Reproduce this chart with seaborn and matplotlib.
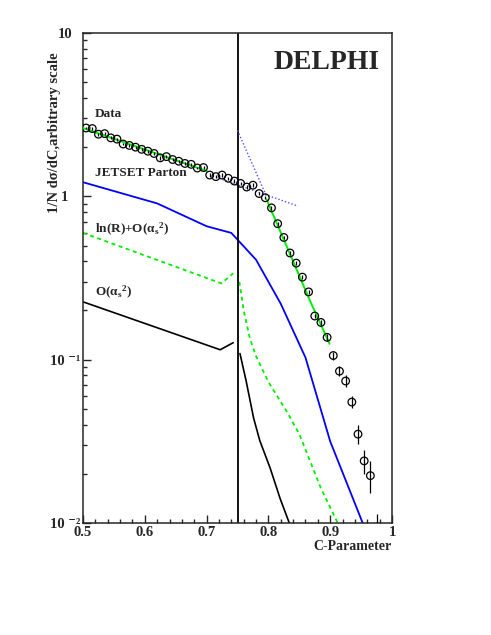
import numpy as np
import pandas as pd
import seaborn as sns
import matplotlib
matplotlib.use("Agg")
import matplotlib.pyplot as plt
from matplotlib.ticker import MultipleLocator, LogLocator, NullFormatter

# Mätpunkter (DELPHI data)
data_c = [0.505, 0.515, 0.525, 0.535, 0.545, 0.555, 0.565, 0.575, 0.585, 0.595,
          0.605, 0.615, 0.625, 0.635, 0.645, 0.655, 0.665, 0.675, 0.685, 0.695,
          0.705, 0.715, 0.725, 0.735, 0.745, 0.755, 0.765, 0.775, 0.785, 0.795,
          0.805, 0.815, 0.825, 0.835, 0.845, 0.855, 0.865, 0.875, 0.885, 0.895,
          0.905, 0.915, 0.925, 0.935, 0.945, 0.955, 0.965, 0.975]
data_y = [2.62, 2.60, 2.40, 2.42, 2.28, 2.24, 2.09, 2.05, 2.00, 1.94,
          1.89, 1.83, 1.72, 1.75, 1.68, 1.64, 1.59, 1.57, 1.49, 1.50,
          1.35, 1.32, 1.35, 1.29, 1.24, 1.20, 1.14, 1.17, 1.04, 0.98,
          0.85, 0.68, 0.56, 0.45, 0.39, 0.32, 0.26, 0.185, 0.169, 0.137,
          0.106, 0.085, 0.074, 0.055, 0.035, 0.024, 0.0195, 0.008]
data_err = [0.05, 0.05, 0.05, 0.05, 0.05, 0.05, 0.04, 0.04, 0.04, 0.04,
            0.04, 0.04, 0.04, 0.04, 0.04, 0.04, 0.03, 0.03, 0.03, 0.03,
            0.03, 0.03, 0.03, 0.03, 0.03, 0.03, 0.03, 0.03, 0.02, 0.02,
            0.02, 0.02, 0.015, 0.012, 0.01, 0.009, 0.008, 0.006, 0.006, 0.006,
            0.006, 0.006, 0.006, 0.0045, 0.0047, 0.004, 0.0043, 0.0034]

# JETSET Parton
jetset_c = [0.50, 0.62, 0.70, 0.74, 0.78, 0.82, 0.86, 0.90, 0.96]
jetset_y = [1.22, 0.905, 0.656, 0.597, 0.409, 0.22, 0.103, 0.0316, 0.0085]

# ln(R)+O(as^2)
nlla_left_c = [0.50, 0.724, 0.743]
nlla_left_y = [0.597, 0.293, 0.338]
nlla_right_c = [0.753, 0.760, 0.770, 0.780, 0.800, 0.830, 0.850, 0.885, 0.915]
nlla_right_y = [0.30, 0.20, 0.135, 0.105, 0.073, 0.048, 0.035, 0.0163, 0.0095]

# O(as^2)
o2_left_c = [0.50, 0.722, 0.743]
o2_left_y = [0.226, 0.115, 0.127]
o2_right_c = [0.754, 0.764, 0.776, 0.786, 0.803, 0.819, 0.836]
o2_right_y = [0.109, 0.074, 0.044, 0.032, 0.0216, 0.0141, 0.0095]

# Anpassningar (fits)
fit_left_c = [0.50, 0.70]
fit_left_y = [2.62, 1.43]
fit_right_c = [0.797, 0.867, 0.899]
fit_right_y = [0.958, 0.231, 0.125]
ext_steep_c = [0.75, 0.797]
ext_steep_y = [2.53, 1.0]
ext_flat_c = [0.71, 0.848]
ext_flat_y = [1.33, 0.871]

x_ticks = [0.5, 0.6, 0.7, 0.8, 0.9, 1.0]
x_tick_labels = ["0.5", "0.6", "0.7", "0.8", "0.9", "1"]
y_ticks = [0.01, 0.1, 1, 10]
y_tick_labels = ["10 ⁻²", "10 ⁻¹", "1", "10"]

sns.set_style("ticks")
plt.rcParams["font.family"] = ["Liberation Serif", "DejaVu Serif"]
plt.rcParams["font.weight"] = "bold"
plt.rcParams["mathtext.fontset"] = "custom"
plt.rcParams["mathtext.rm"] = "Liberation Serif:bold"
plt.rcParams["mathtext.it"] = "Liberation Serif:bold:italic"
plt.rcParams["mathtext.bf"] = "Liberation Serif:bold"
plt.rcParams["mathtext.default"] = "rm"

fig = plt.figure(figsize=(4.91, 6.35), dpi=100)
ax = fig.add_axes([83 / 491, 1 - 523 / 635, 309 / 491, 490 / 635])
ax.set_yscale("log")

blue = "#0000ff"
green = "#00ee00"

# teorikurvor
sns.lineplot(x=jetset_c, y=jetset_y, ax=ax, color=blue, lw=1.3, sort=False, estimator=None)
for cc, yy in [(nlla_left_c, nlla_left_y), (nlla_right_c, nlla_right_y)]:
    sns.lineplot(x=cc, y=yy, ax=ax, color=green, lw=1.3, sort=False, estimator=None,
                 linestyle=(0, (2.2, 2.0)))
for cc, yy in [(o2_left_c, o2_left_y), (o2_right_c, o2_right_y)]:
    sns.lineplot(x=cc, y=yy, ax=ax, color="black", lw=1.2, sort=False, estimator=None)

# fits och extrapolering
for cc, yy in [(fit_left_c, fit_left_y), (fit_right_c, fit_right_y)]:
    sns.lineplot(x=cc, y=yy, ax=ax, color=green, lw=1.4, sort=False, estimator=None, zorder=3)
for cc, yy in [(ext_steep_c, ext_steep_y), (ext_flat_c, ext_flat_y)]:
    sns.lineplot(x=cc, y=yy, ax=ax, color="#5050ff", lw=1.0, sort=False, estimator=None,
                 linestyle=(0, (1, 1.5)), zorder=3)

# data med felstaplar
ax.errorbar(data_c, data_y, yerr=data_err, fmt="none", ecolor="black", elinewidth=0.9,
            capsize=0, zorder=4)
sns.scatterplot(x=data_c, y=data_y, ax=ax, marker="o", s=30, facecolor="none",
                edgecolor="black", linewidth=0.9, zorder=5)

ax.axvline(0.75, color="black", lw=1.3, zorder=2)

ax.set_xlim(0.5, 1.0)
ax.set_ylim(0.01, 10)
ax.set_xticks(x_ticks, x_tick_labels)
ax.set_yticks(y_ticks, y_tick_labels)
ax.xaxis.set_minor_locator(MultipleLocator(0.02))
ax.yaxis.set_minor_locator(LogLocator(base=10, subs=np.arange(2, 10)))
ax.yaxis.set_minor_formatter(NullFormatter())
ax.tick_params(which="both", direction="in", top=False, right=False, width=1.0)
ax.tick_params(which="major", length=5.5, labelsize=10.5)
ax.tick_params(which="minor", length=3)
ax.tick_params(axis="x", pad=2)
ax.tick_params(axis="y", pad=13)
for lab in ax.get_yticklabels():
    lab.set_horizontalalignment("center")
for sp in ax.spines.values():
    sp.set_linewidth(1.1)
    sp.set_visible(True)

ax.set_xlabel("C-Parameter", fontsize=10, fontweight="bold", loc="right", labelpad=1)
ax.set_ylabel("1/N dσ/dC,arbitrary scale", fontsize=10.5, fontweight="bold", loc="top")
ax.yaxis.set_label_coords(-0.07, 0.96)

ax.text(0.039, 0.834, "Data", transform=ax.transAxes, fontsize=9.5, va="center", ha="left")
ax.text(0.039, 0.714, "JETSET Parton", transform=ax.transAxes, fontsize=9.5, va="center", ha="left")
ax.text(0.039, 0.60, "ln(R)+O(α$_{s}{}^{2}$)", transform=ax.transAxes, fontsize=9.5, va="center", ha="left")
ax.text(0.039, 0.471, "O(α$_{s}{}^{2}$)", transform=ax.transAxes, fontsize=9.5, va="center", ha="left")
ax.text(0.788, 0.939, "DELPHI", transform=ax.transAxes, fontsize=20, va="center", ha="center")

fig.savefig("out.png", dpi=100)
